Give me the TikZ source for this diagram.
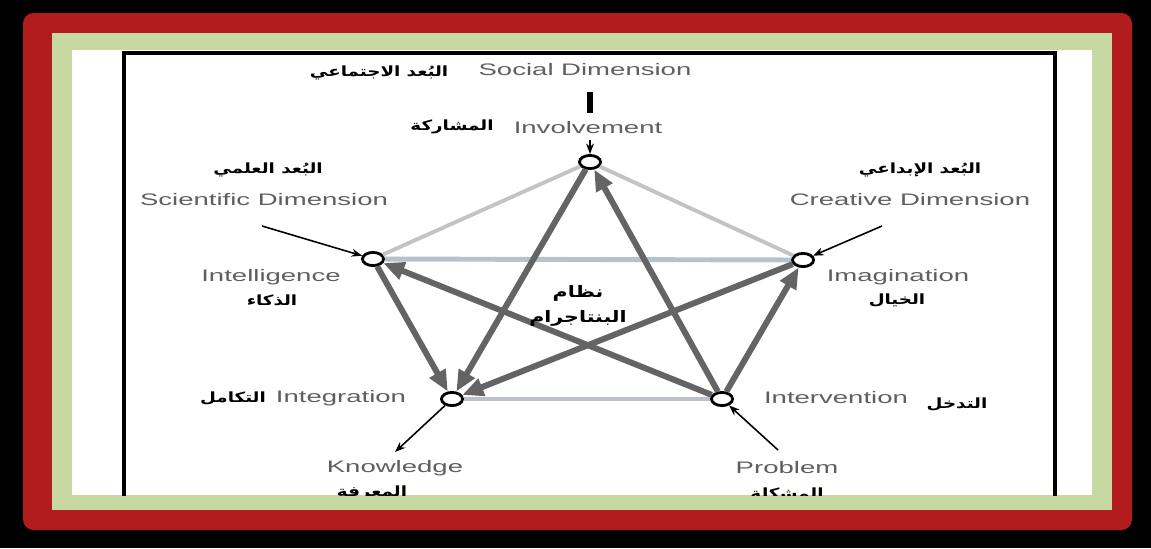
\documentclass[tikz,border=0pt]{standalone}
\usepackage{fontspec}
\setmainfont{Liberation Sans}
\newfontfamily\widesans[FakeStretch=1.65]{Liberation Sans}
\newfontfamily\arabicfont[Script=Arabic,FakeStretch=1.3]{DejaVu Sans}
\TeXXeTstate=1
\definecolor{framered}{RGB}{178,28,28}
\definecolor{framegreen}{RGB}{199,217,161}
\definecolor{labelgray}{RGB}{95,95,95}
\definecolor{arrowgray}{RGB}{100,100,100}
\definecolor{edgegray}{RGB}{195,195,195}
\definecolor{edgeblue}{RGB}{184,194,204}
\usetikzlibrary{arrows.meta,positioning,shapes.geometric}

\begin{document}
\begin{tikzpicture}[x=0.02cm, y=-0.02cm,
  vertex/.style={ellipse, draw, line width=1.6pt, fill=white, inner sep=0pt, minimum width=12pt, minimum height=7.5pt},
  eng/.style={text=labelgray, font=\widesans\fontsize{9.5}{11}\selectfont},
  ar/.style={font=\arabicfont\bfseries\fontsize{8}{10}\selectfont},
  link/.style={line width=3.4pt, draw=arrowgray, -{Triangle[length=12pt,width=10pt]}},
  rim/.style={line width=2.2pt, draw=edgegray},
  base/.style={line width=2.8pt, draw=edgeblue},
  hint/.style={line width=0.9pt, -{Stealth[length=6pt]}}]
% frame
\fill[black] (0,0) rectangle (1151,548);
\fill[framered, rounded corners=6pt] (23,13) rectangle (1132,530);
\fill[framegreen] (52,33) rectangle (1112,510);
\fill[white] (72,50) rectangle (1092,495);
\begin{scope}
\clip (72,50) rectangle (1092,495);
\draw[line width=2.4pt] (124,500) -- (124,53) -- (1055,53) -- (1055,500);

% the five points
\node[vertex] (inv) at (590,162) {};
\node[vertex] (intel) at (373,259) {};
\node[vertex] (imag) at (803,260) {};
\node[vertex] (integ) at (452,399) {};
\node[vertex] (intv) at (722,399) {};

% pentagon sides
\draw[rim] (inv) -- (intel);
\draw[rim] (inv) -- (imag);
\draw[base] (intel) -- (imag);
\draw[base] (integ) -- (intv);

% star
\draw[link] (inv) -- (integ);
\draw[link] (intel) -- (integ);
\draw[link] (imag) -- (integ);
\draw[link] (intv) -- (inv);
\draw[link] (intv) -- (intel);
\draw[link] (intv) -- (imag);

% labels
\node[eng] (social) at (585,70) {Social Dimension};
\node[ar] (socialar) at (379,73) {\beginR البُعد الاجتماعي\endR};
\draw[line width=3pt] (590,92) -- (590,113);
\node[eng] (invlabel) at (588,128) {Involvement};
\node[ar] (invar) at (452,127) {\beginR المشاركة\endR};
\coordinate (socialtail) at (590,140);
\draw[hint] (socialtail) -- (inv);

\node[ar] (sciar) at (268,170) {\beginR البُعد العلمي\endR};
\node[eng] (sci) at (264,200) {Scientific Dimension};
\coordinate (scitail) at (262,226);
\draw[hint] (scitail) -- (intel);
\node[eng] (intellabel) at (271,277) {Intelligence};
\node[ar] (intelar) at (272,300) {\beginR الذكاء\endR};

\node[ar] (creaar) at (920,170) {\beginR البُعد الإبداعي\endR};
\node[eng] (crea) at (910,200) {Creative Dimension};
\coordinate (creatail) at (882,226);
\draw[hint] (creatail) -- (imag);
\node[eng] (imaglabel) at (898,277) {Imagination};
\node[ar] (imagar) at (897,300) {\beginR الخيال\endR};

\node[ar, font=\arabicfont\bfseries\fontsize{9}{14}\selectfont, align=center] (centre) at (578,306) {\beginR نظام\endR\\\beginR البنتاجرام\endR};

\node[eng] (integlabel) at (341,398) {Integration};
\node[ar] (integar) at (233,398) {\beginR التكامل\endR};
\coordinate (knowhead) at (395,452);
\draw[hint] (integ) -- (knowhead);
\node[eng] (know) at (395,468) {Knowledge};
\node[ar] (knowar) at (372,493) {\beginR المعرفة\endR};

\node[eng] (intvlabel) at (836,398) {Intervention};
\node[ar] (intvar) at (957,404) {\beginR التدخل\endR};
\coordinate (probtail) at (778,450);
\draw[hint] (probtail) -- (intv);
\node[eng] (prob) at (787,468) {Problem};
\node[ar] (probar) at (787,493) {\beginR المشكلة\endR};
\end{scope}
\end{tikzpicture}
\end{document}
